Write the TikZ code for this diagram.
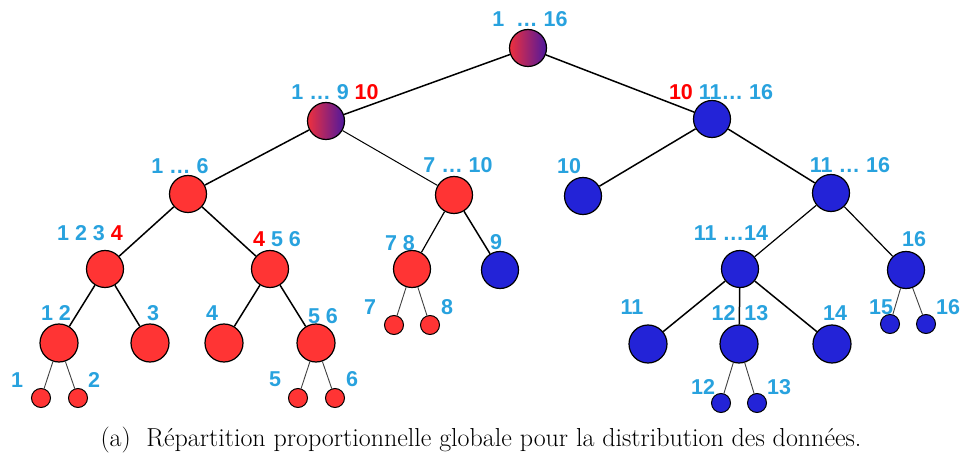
\documentclass[tikz,border=0pt]{standalone}
\usepackage{fontspec}
\usepackage{tikz}
\newfontfamily\numfont{Liberation Sans}

\definecolor{numblue}{RGB}{40,162,222}
\definecolor{numred}{RGB}{255,0,0}
\definecolor{nodered}{RGB}{255,52,52}
\definecolor{nodeblue}{RGB}{35,35,215}
\definecolor{mixleft}{RGB}{238,48,62}
\definecolor{mixright}{RGB}{78,24,158}

\tikzset{
  big/.style={circle, draw=black, line width=1.2pt, minimum size=37pt, inner sep=0pt},
  small/.style={circle, draw=black, line width=1pt, minimum size=19pt, inner sep=0pt},
  red/.style={fill=nodered},
  blue/.style={fill=nodeblue},
  mixed/.style={left color=mixleft, right color=mixright},
  lbl/.style={inner sep=0pt, text=numblue, font=\numfont\bfseries\fontsize{21.5}{24}\selectfont},
  edge/.style={line width=1.5pt},
  thinedge/.style={line width=0.9pt, black!75},
}

\begin{document}
\begin{tikzpicture}[x=1pt, y=-1pt]
		\useasboundingbox (0,0) rectangle (962,457);

		% Level 0 and 1
		\node[big, mixed] (n1to16) at (528,48) {};
		\node[big, mixed] (n1to9) at (326,121) {};
		\node[big, blue] (n10to16) at (712,119) {};

		% Level 2
		\node[big, red] (n1to6) at (188,194) {};
		\node[big, red] (n7to10) at (454,195) {};
		\node[big, blue] (n10) at (583,196) {};
		\node[big, blue] (n11to16) at (831,193) {};

		% Level 3
		\node[big, red] (n1to4) at (105,269) {};
		\node[big, red] (n4to6) at (270,269) {};
		\node[big, red] (n7n8) at (412,269) {};
		\node[big, blue] (n9) at (500,270) {};
		\node[big, blue] (n11to14) at (740,269) {};
		\node[big, blue] (n16) at (906,270) {};

		% Level 4
		\node[big, red, minimum size=38pt] (n1n2) at (59,343) {};
		\node[big, red, minimum size=38pt] (n3) at (150,343) {};
		\node[big, red, minimum size=38pt] (n4) at (224,343) {};
		\node[big, red, minimum size=38pt] (n5n6) at (316,343) {};
		\node[big, blue, minimum size=38pt] (n11) at (648,344) {};
		\node[big, blue, minimum size=38pt] (n12n13) at (739,344) {};
		\node[big, blue, minimum size=38pt] (n14) at (832,344) {};

		% Leaves
		\node[small, red] (l1) at (41,398) {};
		\node[small, red] (l2) at (78,398) {};
		\node[small, red] (l5) at (298,398) {};
		\node[small, red] (l6) at (335,398) {};
		\node[small, red] (l7) at (394,325) {};
		\node[small, red] (l8) at (430,325) {};
		\node[small, blue] (l12) at (721,403) {};
		\node[small, blue] (l13) at (757,403) {};
		\node[small, blue] (l15) at (890,324) {};
		\node[small, blue] (l16) at (926,324) {};

		% Edges
		\draw[edge] (n1to16) -- (n1to9);
		\draw[edge] (n1to16) -- (n10to16);
		\draw[edge] (n1to9) -- (n1to6);
		\draw[edge, line width=1pt] (n1to9) -- (n7to10);
		\draw[edge] (n10to16) -- (n10);
		\draw[edge] (n10to16) -- (n11to16);
		\draw[edge] (n1to6) -- (n1to4);
		\draw[edge] (n1to6) -- (n4to6);
		\draw[edge, line width=1.2pt] (n7to10) -- (n7n8);
		\draw[edge] (n7to10) -- (n9);
		\draw[edge, line width=1.2pt] (n11to16) -- (n11to14);
		\draw[edge, line width=1.2pt] (n11to16) -- (n16);
		\draw[edge] (n1to4) -- (n1n2);
		\draw[edge] (n1to4) -- (n3);
		\draw[edge] (n4to6) -- (n4);
		\draw[edge] (n4to6) -- (n5n6);
		\draw[edge] (n11to14) -- (n11);
		\draw[edge] (n11to14) -- (n12n13);
		\draw[edge] (n11to14) -- (n14);
		\draw[thinedge] (n1n2) -- (l1);
		\draw[thinedge] (n1n2) -- (l2);
		\draw[thinedge] (n5n6) -- (l5);
		\draw[thinedge] (n5n6) -- (l6);
		\draw[thinedge] (n7n8) -- (l7);
		\draw[thinedge] (n7n8) -- (l8);
		\draw[thinedge] (n12n13) -- (l12);
		\draw[thinedge] (n12n13) -- (l13);
		\draw[thinedge] (n16) -- (l15);
		\draw[thinedge] (n16) -- (l16);

		% Labels
		\node[lbl] (t1to16) at (530,19) {1\ \ … 16};
		\node[lbl] (t1to9) at (335,92) {1 … 9 \textcolor{numred}{10}};
		\node[lbl] (t10to16) at (721,92) {\textcolor{numred}{10} 11… 16};
		\node[lbl] (t1to6) at (180,166) {1 … 6};
		\node[lbl] (t7to10) at (458,165) {7 … 10};
		\node[lbl] (t10) at (569,166) {10};
		\node[lbl] (t11to16) at (850,165) {11 … 16};
		\node[lbl] (t1to4) at (90,233) {1 2 3 \textcolor{numred}{4}};
		\node[lbl] (t4to6) at (277,239) {\textcolor{numred}{4} 5 6};
		\node[lbl] (t7n8) at (400,243) {7 8};
		\node[lbl] (t9) at (496,242) {9};
		\node[lbl] (t11to14) at (731,233) {11 …14};
		\node[lbl] (t16) at (914,239) {16};
		\node[lbl] (t1n2) at (56,313) {1 2};
		\node[lbl] (t3) at (153,313) {3};
		\node[lbl] (t4) at (212,313) {4};
		\node[lbl] (t5n6) at (323,316) {5 6};
		\node[lbl] (t11) at (632,307) {11};
		\node[lbl] (t12n13) at (740,313) {12\hspace{9pt}13};
		\node[lbl] (t14) at (835,313) {14};
		\node[lbl] (tl1) at (17,380) {1};
		\node[lbl] (tl2) at (94,380) {2};
		\node[lbl] (tl5) at (275,379) {5};
		\node[lbl] (tl6) at (352,379) {6};
		\node[lbl] (tl7) at (370,307) {7};
		\node[lbl] (tl8) at (447,307) {8};
		\node[lbl] (tl12) at (703,387) {12};
		\node[lbl] (tl13) at (779,387) {13};
		\node[lbl] (tl15) at (881,307) {15};
		\node[lbl] (tl16) at (948,307) {16};

		% Caption
		\node[inner sep=0pt, anchor=base, font=\fontsize{26}{30}\selectfont] (caption) at (481,446)
			{(a)\hspace{0.6em}Répartition proportionnelle globale pour la distribution des données.};

	\end{tikzpicture}
\end{document}
